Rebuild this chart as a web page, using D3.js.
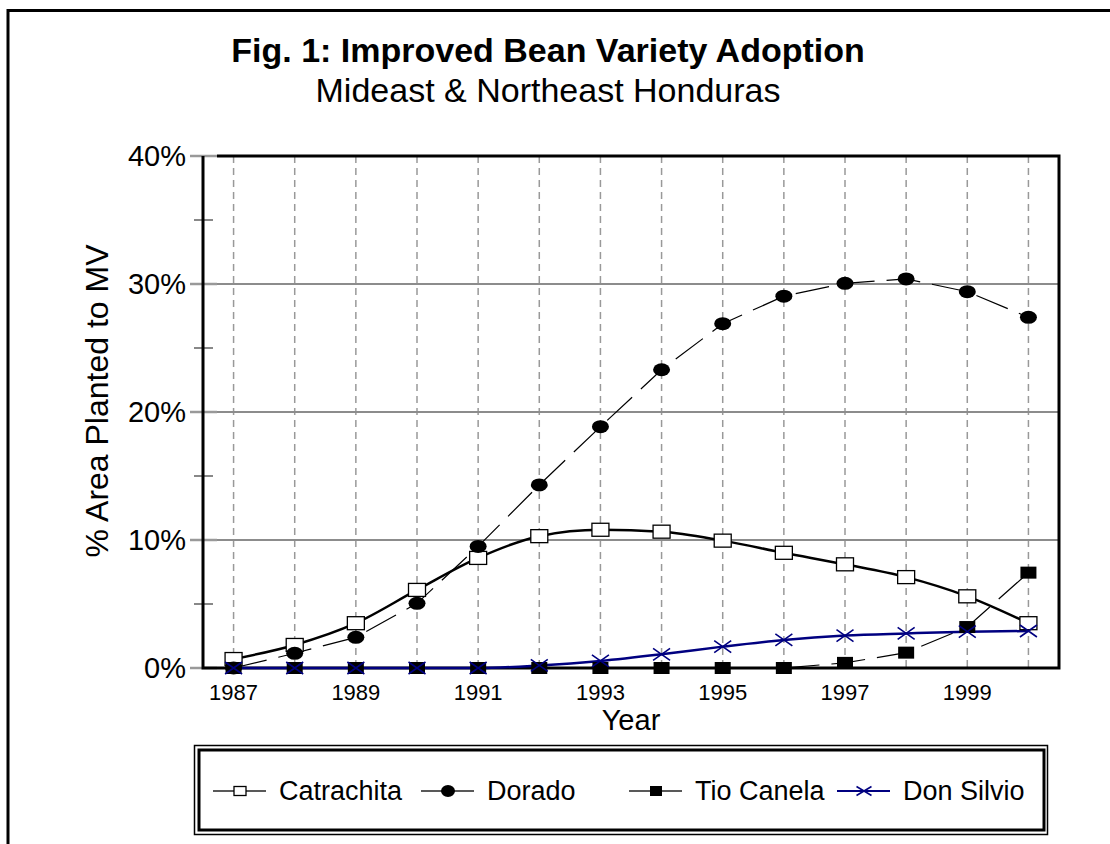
<!DOCTYPE html>
<html>
<head>
<meta charset="utf-8">
<script src="https://cdn.jsdelivr.net/npm/d3@7"></script>
<style>
  body { margin: 0; background: #fff; }
  svg { display: block; font-family: "Liberation Sans", Arial, sans-serif; }
</style>
</head>
<body>
<svg id="chart" width="1110" height="844"></svg>
<script>
/* ---------------------------------------------------
   Data
--------------------------------------------------- */

const years = [1987, 1988, 1989, 1990, 1991, 1992, 1993, 1994, 1995, 1996, 1997, 1998, 1999, 2000];
const yearLabels = [1987, 1989, 1991, 1993, 1995, 1997, 1999];

const catrachita = [0.7, 1.8, 3.5, 6.1, 8.6, 10.3, 10.8, 10.65, 9.95, 9.0, 8.1, 7.1, 5.6, 3.5];
const dorado     = [0, 1.15, 2.4, 5.05, 9.5, 14.3, 18.85, 23.3, 26.9, 29.05, 30.05, 30.4, 29.4, 27.4];
const tioCanela  = [0, 0, 0, 0, 0, 0, 0, 0, 0, 0, 0.4, 1.2, 3.2, 7.45];
const donSilvio  = [0, 0, 0, 0, 0, 0.2, 0.55, 1.07, 1.67, 2.19, 2.53, 2.7, 2.84, 2.89];

const yTicks = [0, 10, 20, 30, 40];
const yMinor = [5, 15, 25, 35];

const seriesNames = ["Catrachita", "Dorado", "Tio Canela", "Don Silvio"];

/* ---------------------------------------------------
   Setup
--------------------------------------------------- */

const svg = d3.select("#chart");
const navy = "#000080";

const x = d3.scaleLinear().domain([1986.5, 2000.5]).range([203, 1059]);
const y = d3.scaleLinear().domain([0, 40]).range([668, 156]);

// outer frame
svg.append("path")
  .attr("d", "M8,844 V10.5 H1110")
  .attr("fill", "none")
  .attr("stroke", "#000")
  .attr("stroke-width", 3);

// titles
svg.append("text")
  .attr("x", 548).attr("y", 62)
  .attr("text-anchor", "middle")
  .attr("font-size", 34).attr("font-weight", "bold")
  .text("Fig. 1: Improved Bean Variety Adoption");

svg.append("text")
  .attr("x", 548).attr("y", 102)
  .attr("text-anchor", "middle")
  .attr("font-size", 34)
  .text("Mideast & Northeast Honduras");

/* ---------------------------------------------------
   Grid and axes
--------------------------------------------------- */

// vertical dashed grid
svg.append("g")
  .selectAll("line")
  .data(years)
  .join("line")
  .attr("x1", d => x(d)).attr("x2", d => x(d))
  .attr("y1", y(40)).attr("y2", y(0))
  .attr("stroke", "#999")
  .attr("stroke-width", 1.5)
  .attr("stroke-dasharray", "7,5");

// horizontal grid
svg.append("g")
  .selectAll("line")
  .data(yTicks.filter(d => d > 0 && d < 40))
  .join("line")
  .attr("x1", x.range()[0]).attr("x2", x.range()[1])
  .attr("y1", d => y(d)).attr("y2", d => y(d))
  .attr("stroke", "#8c8c8c")
  .attr("stroke-width", 2);

// tick stubs
svg.append("g")
  .selectAll("line")
  .data(yTicks)
  .join("line")
  .attr("x1", 190).attr("x2", 217)
  .attr("y1", d => y(d)).attr("y2", d => y(d))
  .attr("stroke", "#999")
  .attr("stroke-width", 2.5);

svg.append("g")
  .selectAll("line")
  .data(yMinor)
  .join("line")
  .attr("x1", 194).attr("x2", 213)
  .attr("y1", d => y(d)).attr("y2", d => y(d))
  .attr("stroke", "#888")
  .attr("stroke-width", 2);

// plot frame
svg.append("path")
  .attr("d", `M217,${y(40)} H${x.range()[1]} V${y(0)} H${x.range()[0]} V${y(40)}`)
  .attr("fill", "none")
  .attr("stroke", "#000")
  .attr("stroke-width", 3);

// y labels
svg.append("g")
  .selectAll("text")
  .data(yTicks)
  .join("text")
  .attr("x", 186)
  .attr("y", d => y(d))
  .attr("dy", "0.36em")
  .attr("text-anchor", "end")
  .attr("font-size", 29)
  .text(d => d + "%");

// x labels
svg.append("g")
  .selectAll("text")
  .data(yearLabels)
  .join("text")
  .attr("x", d => x(d))
  .attr("y", 700)
  .attr("text-anchor", "middle")
  .attr("font-size", 22)
  .text(d => d);

svg.append("text")
  .attr("x", 631).attr("y", 730)
  .attr("text-anchor", "middle")
  .attr("font-size", 29)
  .text("Year");

svg.append("text")
  .attr("transform", "translate(108,401) rotate(-90)")
  .attr("text-anchor", "middle")
  .attr("font-size", 32)
  .text("% Area Planted to MV");

/* ---------------------------------------------------
   Series
--------------------------------------------------- */

const smooth = d3.line()
  .x((d, i) => x(years[i]))
  .y(d => y(d))
  .curve(d3.curveMonotoneX);

const straight = d3.line()
  .x((d, i) => x(years[i]))
  .y(d => y(d));

svg.append("path")
  .attr("d", straight(tioCanela))
  .attr("fill", "none").attr("stroke", "#000")
  .attr("stroke-width", 1.2).attr("stroke-dasharray", "34,12");

svg.append("path")
  .attr("d", straight(dorado))
  .attr("fill", "none").attr("stroke", "#000")
  .attr("stroke-width", 1.2).attr("stroke-dasharray", "34,12");

svg.append("path")
  .attr("d", smooth(catrachita))
  .attr("fill", "none").attr("stroke", "#000")
  .attr("stroke-width", 2.5);

svg.append("path")
  .attr("d", smooth(donSilvio))
  .attr("fill", "none").attr("stroke", navy)
  .attr("stroke-width", 2.5);

function openSquare(g, w, h) {
  g.append("rect").attr("x", -w / 2).attr("y", -h / 2).attr("width", w).attr("height", h)
    .attr("fill", "#fff").attr("stroke", "#000").attr("stroke-width", 1.3);
}
function dot(g, rx, ry) {
  g.append("ellipse").attr("rx", rx).attr("ry", ry).attr("fill", "#000");
}
function fullSquare(g, w, h) {
  g.append("rect").attr("x", -w / 2).attr("y", -h / 2).attr("width", w).attr("height", h)
    .attr("fill", "#000");
}
function cross(g, w, h) {
  g.append("path")
    .attr("d", `M${-w / 2},${-h / 2} L${w / 2},${h / 2} M${-w / 2},${h / 2} L${w / 2},${-h / 2}`)
    .attr("stroke", navy).attr("stroke-width", 1.6).attr("fill", "none");
}

const markerFns = [
  g => openSquare(g, 17, 13),
  g => dot(g, 8.5, 6.5),
  g => fullSquare(g, 16, 12),
  g => cross(g, 17, 12)
];
const allSeries = [catrachita, dorado, tioCanela, donSilvio];

allSeries.forEach((vals, k) => {
  svg.append("g")
    .selectAll("g")
    .data(vals)
    .join("g")
    .attr("transform", (d, i) => `translate(${x(years[i])},${y(d)})`)
    .each(function () { markerFns[k](d3.select(this)); });
});

/* ---------------------------------------------------
   Legend
--------------------------------------------------- */

svg.append("rect")
  .attr("x", 194.5).attr("y", 745.5).attr("width", 853).attr("height", 89)
  .attr("fill", "none").attr("stroke", "#000").attr("stroke-width", 1.5);
svg.append("rect")
  .attr("x", 199).attr("y", 750).attr("width", 845).attr("height", 80)
  .attr("fill", "#fff").attr("stroke", "#000").attr("stroke-width", 3);

const legendMarkers = [
  g => openSquare(g, 12, 9),
  g => dot(g, 7, 6),
  g => fullSquare(g, 12, 10),
  g => cross(g, 15, 9)
];

const legend = svg.append("g")
  .selectAll("g")
  .data(seriesNames)
  .join("g")
  .attr("transform", (d, i) => `translate(${213 + i * 208},791)`);

legend.append("line")
  .attr("x1", 0).attr("x2", 53)
  .attr("stroke", (d, i) => i === 3 ? navy : "#222")
  .attr("stroke-width", (d, i) => i === 3 ? 2.2 : 1.5);

legend.append("g")
  .attr("transform", "translate(27,0)")
  .each(function (d, i) { legendMarkers[i](d3.select(this)); });

legend.append("text")
  .attr("x", 66).attr("y", 9)
  .attr("font-size", 27)
  .text(d => d);
</script>
</body>
</html>
